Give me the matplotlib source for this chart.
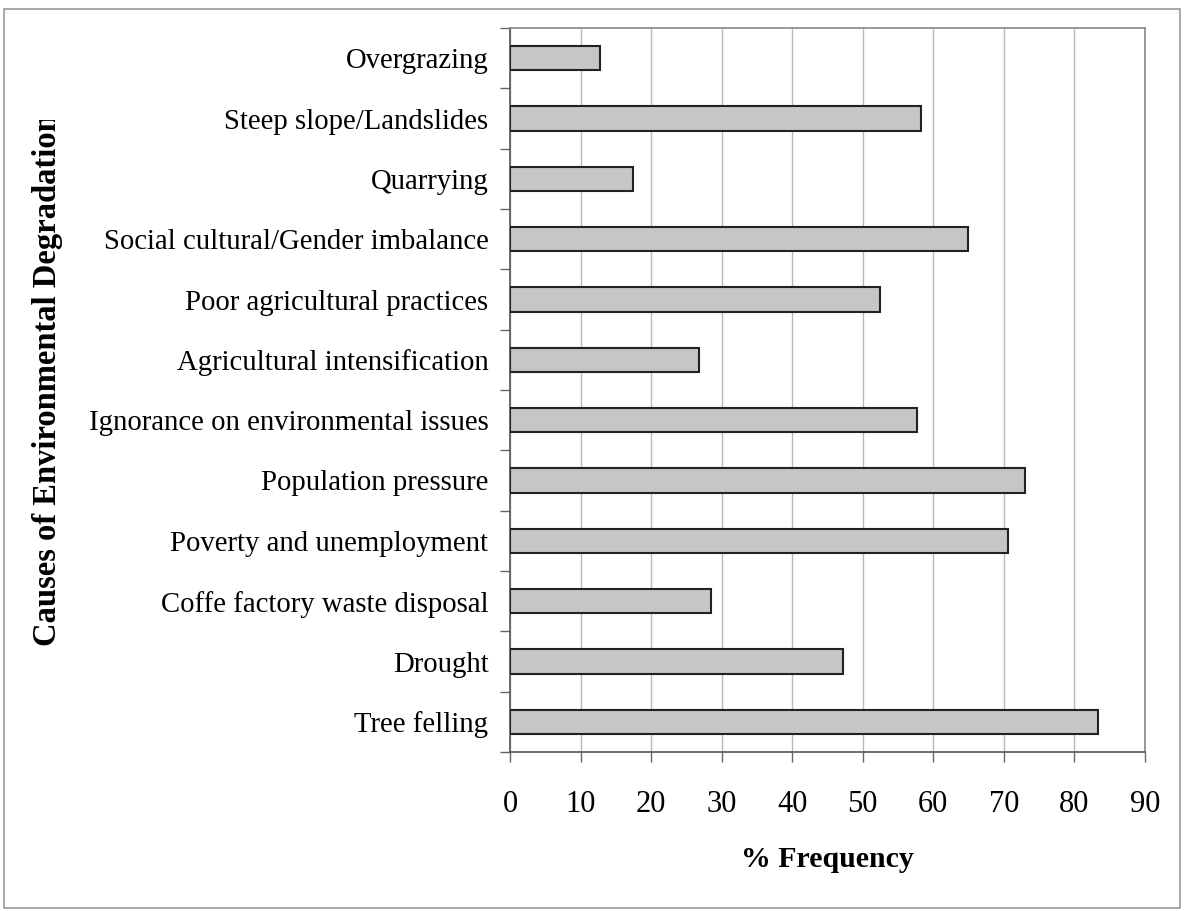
import matplotlib.pyplot as plt
from matplotlib.patches import Rectangle
from matplotlib.transforms import Bbox
import numpy as np

# categories, bottom to top
causes = [
    "Tree felling",
    "Drought",
    "Coffe factory waste disposal",
    "Poverty and unemployment",
    "Population pressure",
    "Ignorance on environmental issues",
    "Agricultural intensification",
    "Poor agricultural practices",
    "Social cultural/Gender imbalance",
    "Quarrying",
    "Steep slope/Landslides",
    "Overgrazing",
]
freq = [83.3, 47.2, 28.5, 70.6, 73.0, 57.7, 26.8, 52.4, 64.9, 17.4, 58.2, 12.8]
xticks = [0, 10, 20, 30, 40, 50, 60, 70, 80, 90]

plt.rcParams['font.family'] = ['Liberation Serif', 'DejaVu Serif']

fig = plt.figure(figsize=(11.84, 9.11), dpi=100)
ax = fig.add_axes([510 / 1184, 1 - 752 / 911, 635 / 1184, 724 / 911])

# bars
y = np.arange(len(causes))
ax.barh(y, freq, height=0.4, color='#c6c6c6', edgecolor='#222222', linewidth=1.5, zorder=3)

# axes / grid
ax.set_xlim(0, 90)
ax.set_ylim(-0.5, len(causes) - 0.5)
ax.set_xticks(xticks)
ax.set_xticklabels([str(t) for t in xticks], fontsize=22)
ax.xaxis.grid(True, color='#b8b8c4', linewidth=1.0, zorder=0)
ax.tick_params(axis='x', direction='out', length=7, width=1, color='#666666', pad=20)

ax.set_yticks(y)
ax.set_yticklabels(causes, fontsize=20.7)
ax.set_yticks(np.arange(len(causes) + 1) - 0.5, minor=True)
ax.tick_params(axis='y', which='major', length=0, pad=15.5)
ax.tick_params(axis='y', which='minor', direction='out', length=7, width=1, color='#666666')

for side in ['left', 'bottom']:
    ax.spines[side].set_color('#555555')
    ax.spines[side].set_linewidth(1.2)
for side in ['top', 'right']:
    ax.spines[side].set_color('#888888')
    ax.spines[side].set_linewidth(1.2)

ax.set_xlabel("% Frequency", fontsize=21.5, fontweight='bold', labelpad=20)

# y label, clipped at the top like the original
ylab = fig.text(48 / 1184, 1 - 380 / 911, "Causes of Environmental Degradation",
                rotation=90, ha='center', va='center', fontsize=23.5, fontweight='bold')
ylab.set_clip_box(Bbox.from_extents(0, 0, 1184, 911 - 120))
ylab.set_clip_on(True)

# outer frame
fig.patches.append(Rectangle((4 / 1184, 3 / 911), 1176 / 1184, 899 / 911,
                             transform=fig.transFigure, fill=False,
                             edgecolor='#999999', linewidth=1.2))

fig.savefig("out.png", dpi=100)
